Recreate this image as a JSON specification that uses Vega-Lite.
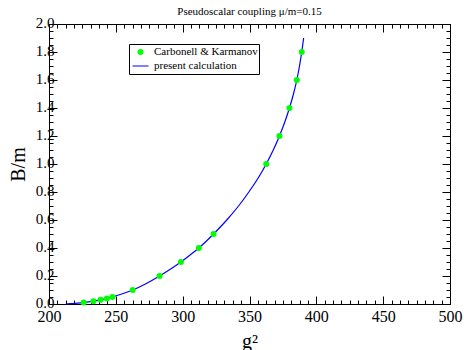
{
  "$schema": "https://vega.github.io/schema/vega-lite/v6.json",
  "width": 401,
  "height": 280,
  "autosize": {"type": "none"},
  "padding": {"left": 49, "top": 24, "right": 14, "bottom": 46},
  "background": "white",
  "title": {"text": "Pseudoscalar coupling μ/m=0.15", "font": "Liberation Serif", "fontSize": 11, "fontWeight": "normal", "color": "black", "anchor": "middle", "frame": "group", "offset": -13, "baseline": "bottom"},
  "config": {
    "view": {"stroke": null},
    "axis": {"grid": false, "domainColor": "black", "domainWidth": 1, "tickColor": "black", "tickWidth": 1, "labelFont": "Liberation Serif", "titleFont": "Liberation Serif", "labelColor": "black", "titleColor": "black", "labelFontSize": 15, "titleFontWeight": "normal"},
    "legend": {"labelFont": "Liberation Serif", "labelFontSize": 11, "labelColor": "black"}
  },
  "data": {"values": [
    {"g2": 225.9, "B": 0.01, "series": "Carbonell & Karmanov"},
    {"g2": 233.2, "B": 0.02, "series": "Carbonell & Karmanov"},
    {"g2": 238.6, "B": 0.03, "series": "Carbonell & Karmanov"},
    {"g2": 243.3, "B": 0.04, "series": "Carbonell & Karmanov"},
    {"g2": 247.4, "B": 0.05, "series": "Carbonell & Karmanov"},
    {"g2": 262.6, "B": 0.10, "series": "Carbonell & Karmanov"},
    {"g2": 282.7, "B": 0.20, "series": "Carbonell & Karmanov"},
    {"g2": 298.7, "B": 0.30, "series": "Carbonell & Karmanov"},
    {"g2": 312.1, "B": 0.40, "series": "Carbonell & Karmanov"},
    {"g2": 323.1, "B": 0.50, "series": "Carbonell & Karmanov"},
    {"g2": 362.5, "B": 1.00, "series": "Carbonell & Karmanov"},
    {"g2": 372.4, "B": 1.20, "series": "Carbonell & Karmanov"},
    {"g2": 379.9, "B": 1.40, "series": "Carbonell & Karmanov"},
    {"g2": 385.4, "B": 1.60, "series": "Carbonell & Karmanov"},
    {"g2": 389.1, "B": 1.80, "series": "Carbonell & Karmanov"},
    {"g2": 212.5, "B": 0.0, "series": "present calculation"},
    {"g2": 216.0, "B": 0.002, "series": "present calculation"},
    {"g2": 220.0, "B": 0.005, "series": "present calculation"},
    {"g2": 225.9, "B": 0.01, "series": "present calculation"},
    {"g2": 233.2, "B": 0.02, "series": "present calculation"},
    {"g2": 238.6, "B": 0.03, "series": "present calculation"},
    {"g2": 243.3, "B": 0.04, "series": "present calculation"},
    {"g2": 247.4, "B": 0.05, "series": "present calculation"},
    {"g2": 255.0, "B": 0.073, "series": "present calculation"},
    {"g2": 262.6, "B": 0.10, "series": "present calculation"},
    {"g2": 272.5, "B": 0.145, "series": "present calculation"},
    {"g2": 282.7, "B": 0.20, "series": "present calculation"},
    {"g2": 291.0, "B": 0.25, "series": "present calculation"},
    {"g2": 298.7, "B": 0.30, "series": "present calculation"},
    {"g2": 305.6, "B": 0.35, "series": "present calculation"},
    {"g2": 312.1, "B": 0.40, "series": "present calculation"},
    {"g2": 317.8, "B": 0.45, "series": "present calculation"},
    {"g2": 323.1, "B": 0.50, "series": "present calculation"},
    {"g2": 333.0, "B": 0.60, "series": "present calculation"},
    {"g2": 341.8, "B": 0.70, "series": "present calculation"},
    {"g2": 349.5, "B": 0.80, "series": "present calculation"},
    {"g2": 356.5, "B": 0.90, "series": "present calculation"},
    {"g2": 362.5, "B": 1.00, "series": "present calculation"},
    {"g2": 367.8, "B": 1.10, "series": "present calculation"},
    {"g2": 372.4, "B": 1.20, "series": "present calculation"},
    {"g2": 376.4, "B": 1.30, "series": "present calculation"},
    {"g2": 379.9, "B": 1.40, "series": "present calculation"},
    {"g2": 382.9, "B": 1.50, "series": "present calculation"},
    {"g2": 385.4, "B": 1.60, "series": "present calculation"},
    {"g2": 387.4, "B": 1.70, "series": "present calculation"},
    {"g2": 389.1, "B": 1.80, "series": "present calculation"},
    {"g2": 390.5, "B": 1.90, "series": "present calculation"}
  ]},
  "resolve": {"axis": {"x": "independent", "y": "independent"}},
  "layer": [
    {
      "transform": [{"filter": "datum.series === 'present calculation'"}],
      "mark": {"type": "line", "strokeWidth": 1.2, "interpolate": "monotone"},
      "encoding": {
        "x": {"field": "g2", "type": "quantitative", "scale": {"domain": [200, 500], "nice": false, "zero": false},
              "axis": {"orient": "bottom", "values": [200, 250, 300, 350, 400, 450, 500], "tickSize": -8, "labelPadding": 12, "labelFontSize": 16, "labelFont": "Liberation Serif", "labelFlush": false, "labelOverlap": false, "title": "g²", "titleFontSize": 20, "titleBaseline": "alphabetic", "titleY": 43}},
        "y": {"field": "B", "type": "quantitative", "scale": {"domain": [0, 2], "nice": false, "zero": false},
              "axis": {"orient": "left", "values": [0, 0.2, 0.4, 0.6, 0.8, 1.0, 1.2, 1.4, 1.6, 1.8, 2.0], "format": ".1f", "tickSize": -8, "labelPadding": 3, "labelOffset": -2, "labelFontSize": 15, "labelFont": "Liberation Serif", "labelFlush": false, "labelOverlap": false, "title": "B/m", "titleFontSize": 20, "titleBaseline": "alphabetic", "titleX": -25}},
        "color": {"field": "series", "type": "nominal",
                  "scale": {"domain": ["Carbonell & Karmanov", "present calculation"], "range": ["#00ff00", "#0000ff"]},
                  "legend": {"orient": "none", "legendX": 80, "legendY": 20, "title": null, "padding": 1, "symbolOffset": 5, "labelOffset": 8, "rowPadding": 0, "clipHeight": 14, "strokeColor": "black", "fillColor": "white", "labelFont": "Liberation Serif", "labelFontSize": 11, "labelColor": "black", "symbolSize": 256, "symbolOpacity": 1,
                    "encode": {"symbols": {"update": {"stroke": {"scale": "color", "field": "value"}, "strokeWidth": {"signal": "datum.value === 'present calculation' ? 1.2 : 0"}, "size": {"signal": "datum.value === 'present calculation' ? 256 : 36"}, "opacity": {"value": 1}}}}}}
      }
    },
    {
      "transform": [{"filter": "datum.series === 'Carbonell & Karmanov'"}],
      "mark": {"type": "point", "filled": true, "size": 36, "opacity": 1},
      "encoding": {
        "x": {"field": "g2", "type": "quantitative",
              "axis": {"orient": "top", "values": [200, 250, 300, 350, 400, 450, 500], "tickSize": -8, "labels": false, "title": null}},
        "y": {"field": "B", "type": "quantitative",
              "axis": {"orient": "right", "values": [0, 0.2, 0.4, 0.6, 0.8, 1.0, 1.2, 1.4, 1.6, 1.8, 2.0], "tickSize": -8, "labels": false, "title": null}},
        "color": {"field": "series", "type": "nominal",
                  "legend": {"orient": "none", "legendX": 80, "legendY": 20, "title": null, "padding": 1, "symbolOffset": 5, "labelOffset": 8, "rowPadding": 0, "clipHeight": 14, "strokeColor": "black", "fillColor": "white", "labelFont": "Liberation Serif", "labelFontSize": 11, "labelColor": "black", "symbolSize": 256, "symbolOpacity": 1,
                    "encode": {"symbols": {"update": {"stroke": {"scale": "color", "field": "value"}, "strokeWidth": {"signal": "datum.value === 'present calculation' ? 1.2 : 0"}, "size": {"signal": "datum.value === 'present calculation' ? 256 : 36"}, "opacity": {"value": 1}}}}}},
        "shape": {"field": "series", "type": "nominal",
                  "scale": {"domain": ["Carbonell & Karmanov", "present calculation"], "range": ["circle", "stroke"]},
                  "legend": {"orient": "none", "legendX": 80, "legendY": 20, "title": null, "padding": 1, "symbolOffset": 5, "labelOffset": 8, "rowPadding": 0, "clipHeight": 14, "strokeColor": "black", "fillColor": "white", "labelFont": "Liberation Serif", "labelFontSize": 11, "labelColor": "black", "symbolSize": 256, "symbolOpacity": 1,
                    "encode": {"symbols": {"update": {"stroke": {"scale": "color", "field": "value"}, "strokeWidth": {"signal": "datum.value === 'present calculation' ? 1.2 : 0"}, "size": {"signal": "datum.value === 'present calculation' ? 256 : 36"}, "opacity": {"value": 1}}}}}}
      }
    },
    {
      "transform": [{"filter": "datum.series === 'Carbonell & Karmanov'"}],
      "mark": {"type": "point", "opacity": 0},
      "encoding": {
        "x": {"field": "g2", "type": "quantitative",
              "axis": {"orient": "bottom", "values": [200, 206.25, 212.5, 218.75, 225, 231.25, 237.5, 243.75, 250, 256.25, 262.5, 268.75, 275, 281.25, 287.5, 293.75, 300, 306.25, 312.5, 318.75, 325, 331.25, 337.5, 343.75, 350, 356.25, 362.5, 368.75, 375, 381.25, 387.5, 393.75, 400, 406.25, 412.5, 418.75, 425, 431.25, 437.5, 443.75, 450, 456.25, 462.5, 468.75, 475, 481.25, 487.5, 493.75, 500], "tickSize": -4, "labels": false, "title": null}},
        "y": {"field": "B", "type": "quantitative",
              "axis": {"orient": "left", "values": [0, 0.05, 0.1, 0.15, 0.2, 0.25, 0.3, 0.35, 0.4, 0.45, 0.5, 0.55, 0.6, 0.65, 0.7, 0.75, 0.8, 0.85, 0.9, 0.95, 1.0, 1.05, 1.1, 1.15, 1.2, 1.25, 1.3, 1.35, 1.4, 1.45, 1.5, 1.55, 1.6, 1.65, 1.7, 1.75, 1.8, 1.85, 1.9, 1.95, 2.0], "tickSize": -4, "labels": false, "title": null}}
      }
    },
    {
      "transform": [{"filter": "datum.series === 'Carbonell & Karmanov'"}],
      "mark": {"type": "point", "opacity": 0},
      "encoding": {
        "x": {"field": "g2", "type": "quantitative",
              "axis": {"orient": "top", "values": [200, 206.25, 212.5, 218.75, 225, 231.25, 237.5, 243.75, 250, 256.25, 262.5, 268.75, 275, 281.25, 287.5, 293.75, 300, 306.25, 312.5, 318.75, 325, 331.25, 337.5, 343.75, 350, 356.25, 362.5, 368.75, 375, 381.25, 387.5, 393.75, 400, 406.25, 412.5, 418.75, 425, 431.25, 437.5, 443.75, 450, 456.25, 462.5, 468.75, 475, 481.25, 487.5, 493.75, 500], "tickSize": -4, "labels": false, "title": null}},
        "y": {"field": "B", "type": "quantitative",
              "axis": {"orient": "right", "values": [0, 0.05, 0.1, 0.15, 0.2, 0.25, 0.3, 0.35, 0.4, 0.45, 0.5, 0.55, 0.6, 0.65, 0.7, 0.75, 0.8, 0.85, 0.9, 0.95, 1.0, 1.05, 1.1, 1.15, 1.2, 1.25, 1.3, 1.35, 1.4, 1.45, 1.5, 1.55, 1.6, 1.65, 1.7, 1.75, 1.8, 1.85, 1.9, 1.95, 2.0], "tickSize": -4, "labels": false, "title": null}}
      }
    }
  ]
}
